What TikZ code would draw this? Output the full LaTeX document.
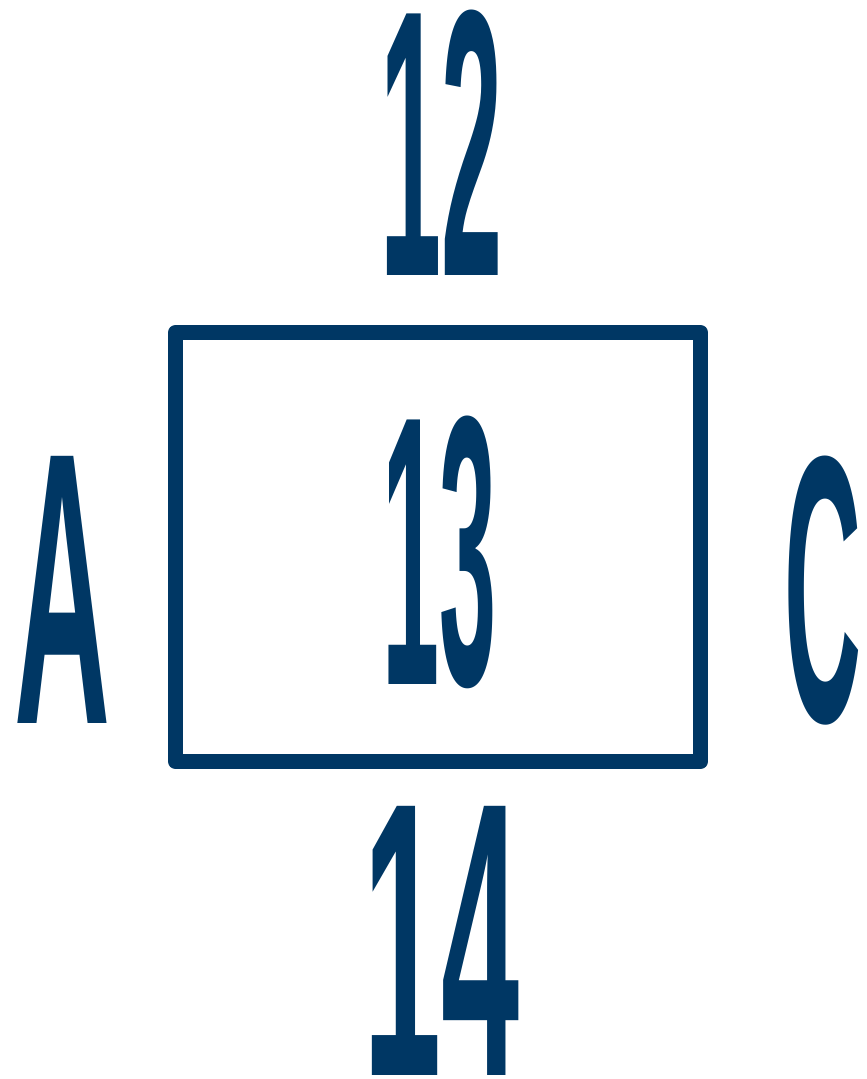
\documentclass[tikz,border=0pt]{standalone}
\usepackage{fontspec}
\setmainfont{Liberation Sans}
\usepackage{graphicx}
\definecolor{navy}{HTML}{003764}
\tikzset{
  glyph/.style={inner sep=0pt, outer sep=0pt, text=navy, font=\bfseries},
  frame/.style={draw=navy, line width=15pt, line join=round, inner sep=0pt,
    minimum width=525pt, minimum height=429pt}
}
\begin{document}
\begin{tikzpicture}[x=1pt,y=1pt]
\useasboundingbox (0,0) rectangle (867,1079);
\node[frame] (box) at (438,532) {};
\node[glyph] (n12) at (442,936.5) {\resizebox{122pt}{265pt}{12}};
\node[glyph] (n13) at (440,527) {\resizebox{114pt}{268pt}{13}};
\node[glyph] (n14) at (442,138.5) {\resizebox{156pt}{269pt}{14}};
\node[glyph] (nA) at (63,489.5) {\resizebox{96pt}{267pt}{A}};
\node[glyph] (nC) at (823.5,488.5) {\resizebox{77pt}{265pt}{C}};
\end{tikzpicture}
\end{document}
